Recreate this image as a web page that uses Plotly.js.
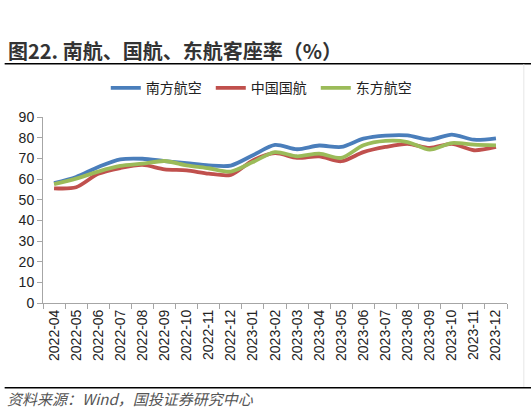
<!DOCTYPE html>
<html>
<head>
<meta charset="utf-8">
<script src="https://cdn.plot.ly/plotly-3.0.1.min.js"></script>
<style>
  html, body { margin: 0; padding: 0; background: #fff; }
  #chart { width: 531px; height: 411px; }
</style>
</head>
<body>
<div id="chart"></div>
<script>
// months on the x axis
const months = ['2022-04', '2022-05', '2022-06', '2022-07', '2022-08', '2022-09', '2022-10',
    '2022-11', '2022-12', '2023-01', '2023-02', '2023-03', '2023-04', '2023-05', '2023-06',
    '2023-07', '2023-08', '2023-09', '2023-10', '2023-11', '2023-12'];

// passenger load factor, %
const chinaSouthern = [58, 61, 65.8, 69.5, 69.8, 68.7, 67.7, 66.6, 66.5, 71.5, 76.5,
    74.4, 76.2, 75.5, 79.5, 81, 81.1, 79, 81.5, 79, 79.7];
const airChina = [55.5, 56, 62.5, 65.3, 66.8, 64.7, 64.2, 62.6, 62, 69, 72.5,
    70.2, 71, 68.6, 73, 75.5, 77, 75, 77, 73.9, 75.5];
const chinaEastern = [57.5, 60.2, 63.6, 66.3, 67.4, 68.7, 66.6, 65.2, 63.6, 68.2, 73,
    71, 72.3, 70.2, 76.3, 78.4, 77.9, 74.2, 77.4, 76.6, 76.3];

const seriesNames = ['南方航空', '中国国航', '东方航空'];
const seriesColors = ['#4a7ebb', '#c0504d', '#9bbb59'];

const cjk = '"Noto Sans CJK SC", "Noto Sans", sans-serif';
const latin = '"Liberation Sans", Arial, sans-serif';

function makeTrace(values, i) {
    return {
        type: 'scatter',
        mode: 'lines',
        x: months,
        y: values,
        name: seriesNames[i],
        line: {color: seriesColors[i], width: 3.8, shape: 'spline', smoothing: 0.8},
        hoverinfo: 'skip'
    };
}

const data = [chinaSouthern, airChina, chinaEastern].map(makeTrace);

// helpers to turn page pixels into paper coords (plot area 43..507 x 117..303)
const L = 43.3, R = 506.7, T = 116.7, B = 302.7;
const px = x => (x - L) / (R - L);
const py = y => (B - y) / (B - T);

const layout = {
    width: 531,
    height: 411,
    margin: {l: L, r: 531 - R, t: T, b: 411 - B, pad: 0},
    paper_bgcolor: '#fff',
    plot_bgcolor: '#fff',
    showlegend: true,
    legend: {
        orientation: 'h',
        x: px(106), xanchor: 'left',
        y: py(88), yanchor: 'middle',
        font: {family: cjk, size: 14, color: '#222'},
        itemwidth: 30,
        entrywidth: 60,
        tracegroupgap: 0,
        bgcolor: 'rgba(0,0,0,0)'
    },
    xaxis: {
        type: 'category',
        range: [-0.5, months.length - 0.5],
        tickson: 'boundaries',
        ticks: 'outside',
        ticklen: 5,
        tickcolor: '#a6a6a6',
        tickangle: -90,
        tickfont: {family: latin, size: 14, color: '#222'},
        showline: true,
        linecolor: '#a6a6a6',
        linewidth: 1,
        showgrid: false,
        zeroline: false,
        fixedrange: true
    },
    yaxis: {
        range: [0, 90],
        dtick: 10,
        ticks: 'outside',
        ticklen: 5,
        tickcolor: '#a6a6a6',
        tickfont: {family: latin, size: 14, color: '#222'},
        showline: true,
        linecolor: '#a6a6a6',
        linewidth: 1,
        showgrid: false,
        zeroline: false,
        fixedrange: true
    },
    shapes: [
        // rule under the figure title
        {type: 'line', xref: 'paper', yref: 'paper', x0: px(5), x1: px(531), y0: py(63.5), y1: py(63.5),
            line: {color: '#000', width: 1.5}},
        // light frame on the right of the chart box
        {type: 'line', xref: 'paper', yref: 'paper', x0: px(523.5), x1: px(523.5), y0: py(64), y1: py(387),
            line: {color: '#e6e6e6', width: 1}},
        // rule above the source note
        {type: 'line', xref: 'paper', yref: 'paper', x0: px(5), x1: px(531), y0: py(387.5), y1: py(387.5),
            line: {color: '#000', width: 1.5}}
    ],
    annotations: [
        {xref: 'paper', yref: 'paper', x: px(6), y: py(50.5), xanchor: 'left', yanchor: 'middle',
            showarrow: false, text: '<b>图22. 南航、国航、东航客座率（%）</b>',
            font: {family: cjk, size: 20, color: '#333'}},
        {xref: 'paper', yref: 'paper', x: px(5), y: py(398.5), xanchor: 'left', yanchor: 'middle',
            showarrow: false, text: '<i>资料来源：Wind，国投证券研究中心</i>',
            font: {family: cjk, size: 15, color: '#555'}}
    ]
};

Plotly.newPlot('chart', data, layout, {displayModeBar: false, staticPlot: true});
</script>
</body>
</html>
